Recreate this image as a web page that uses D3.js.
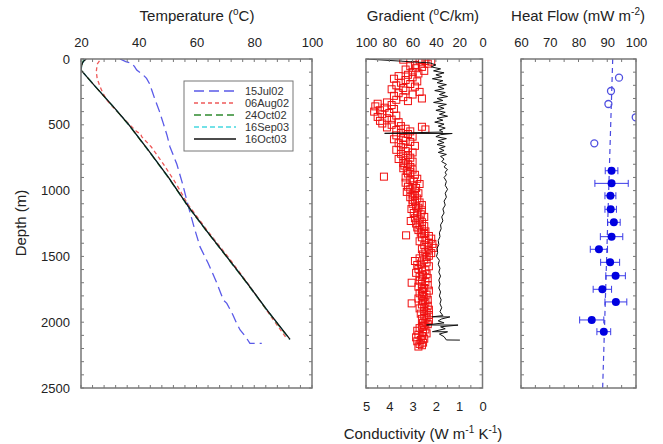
<!DOCTYPE html>
<html>
<head>
<meta charset="utf-8">
<script src="https://cdn.jsdelivr.net/npm/d3@7"></script>
<style>
  body { margin: 0; background: #fff; }
  text { font-family: "Liberation Sans", Arial, sans-serif; fill: #222; }
</style>
</head>
<body>
<script>
// Temperature logs, [depth (m), temperature (C)]
const tJul02 = [[0,33.5],[20,35.5],[33,37.6],[60,38.6],[84,39.3],[120,41.5],[147,42.7],[190,43.8],[236,44.5],[300,45.5],[400,47.2],[489,48.5],[580,49.8],[667,50.8],[800,53.2],[950,55.2],[1122,57.2],[1280,59.2],[1426,61.2],[1550,64],[1700,67],[1831,69.3],[1857,70.5],[1940,72.5],[2009,73.9],[2059,75.1],[2110,77],[2161,78.5],[2161,82.6]]
const tAug02 = [[15,26.4],[40,25.6],[96,25.3],[150,25.6],[210,26.6],[260,27.6],[312,28.9],[400,32.5],[500,36.9],[552,39.3],[570,40.7],[590,41.0],[667,44.3],[800,48.6],[950,53.0],[1100,56.9],[1300,63.6],[1500,70.8],[1700,77.6],[1900,84.0],[2130,91.4]]
const tOct02 = [[0,21.2],[20,20.6],[50,20.2],[84,20],[200,24.6],[362,31.1],[500,36.5],[692,43.2],[900,50.2],[1122,57.1],[1300,63.2],[1500,70.3],[1700,77.3],[1900,84.1],[2130,92.2]]
const tSep03 = [[0,21.4],[20,20.8],[50,20.3],[84,20],[200,24.6],[362,31.2],[500,36.6],[692,43.3],[900,50.3],[1122,57.2],[1300,63.3],[1500,70.4],[1700,77.4],[1900,84.2],[2130,92.3]]
const tOct03 = [[0,21.8],[15,21],[30,20.5],[50,20.2],[84,20],[200,24.6],[362,31.2],[500,36.6],[692,43.3],[900,50.3],[1122,57.2],[1300,63.3],[1500,70.4],[1700,77.4],[1900,84.2],[2130,92.4]]
const legendLabels = ['15Jul02', '06Aug02', '24Oct02', '16Sep03', '16Oct03']

// Gradient log, [depth (m), gradient (C/km)]
const gradient = [[0,100],[30,45],[45,40],[60,44],[75,36],[90,42],[105,33],[120,40],[135,35],[150,43],[165,34],[180,39],[195,31],[210,38],[225,33],[240,41],[255,32],[270,37],[285,30],[300,39],[315,34],[330,42],[345,31],[360,38],[375,33],[390,40],[405,32],[420,37],[435,30],[450,39],[465,34],[480,41],[495,33],[510,38],[525,32],[540,37],[555,34],[565,84],[566,26],[575,36],[590,40],[605,31],[620,38],[635,33],[650,39],[665,32],[680,37],[695,33],[710,38],[725,31],[740,36],[760,33],[780,35],[800,31],[820,33],[840,30],[860,32],[880,31],[900,33],[930,31],[960,32],[990,30],[1020,32],[1050,31],[1080,33],[1110,32],[1140,34],[1170,33],[1200,35],[1230,34],[1260,36],[1290,35.5],[1320,37],[1350,36.5],[1380,38],[1410,37.5],[1440,39],[1470,38.5],[1500,39.5],[1530,37],[1560,38],[1590,36.5],[1620,37.5],[1650,36],[1680,37.5],[1710,36.5],[1740,37.5],[1770,36],[1800,37],[1830,35.5],[1860,36.5],[1890,35],[1920,36.5],[1950,34],[1959,43],[1960,28],[1975,35],[1990,38],[2005,33],[2021,48],[2022,21],[2035,36],[2050,32],[2072,43],[2073,30],[2090,37],[2110,33],[2135,31],[2136,19.4]]

// Conductivity samples, [depth (m), k (W/m/K)]
const conductivity = [[5,3.4],[10,2.7],[15,2.45],[20,2.2],[25,2.6],[35,2.35],[45,2.9],
  [55,3.1],[60,2.6],[70,2.85],[80,3.3],[90,2.5],[100,3.0],[110,2.75],[120,3.2],
  [130,3.6],[140,3.0],[150,3.8],[160,3.3],[170,2.8],[180,3.5],[190,3.1],[200,3.7],[210,2.9],[220,3.4],
  [230,3.9],[240,3.3],[250,2.7],[260,3.6],[270,3.0],[280,3.8],[290,3.4],[300,2.6],[310,3.7],[320,3.2],
  [330,4.1],[340,4.5],[350,3.9],[360,4.6],[370,4.2],[380,3.8],[390,4.4],[400,4.65],[410,4.0],[420,4.3],[430,3.7],[440,4.5],[450,4.1],[460,3.9],[470,4.4],[480,3.6],
  [490,4.3],[500,3.9],[510,3.5],[515,2.6],[520,4.1],[530,3.3],[535,2.45],[540,3.7],[550,3.1],
  [560,3.5],[570,3.2],[580,3.7],[590,3.0],[600,3.4],[610,3.8],[620,3.3],[630,3.1],[640,3.6],[650,3.4],[660,2.9],[670,3.5],[680,3.2],[690,3.7],[700,3.3],[710,3.0],[720,3.5],[730,3.2],[740,3.4],[750,3.1],[760,3.6],[770,3.3],[780,3.0],[790,3.4],[800,3.2],
  [810,3.35],[820,3.1],[830,3.4],[840,3.0],[850,3.25],[860,3.1],[894,4.23],
  [870,3.2],[880,2.9],[900,3.3],[910,2.8],[920,3.1],[930,2.95],[940,3.3],[950,2.7],[960,3.0],[970,3.2],[980,2.85],[990,3.1],[1000,2.9],[1010,3.25],[1020,2.75],[1030,3.0],[1040,2.9],[1050,3.1],[1060,2.8],[1070,3.0],
  [1080,2.9],[1090,2.7],[1100,3.0],[1110,2.6],[1120,2.85],[1130,2.75],[1140,3.05],[1150,2.6],[1160,2.8],[1170,2.95],[1180,2.65],[1190,2.8],[1200,2.5],[1210,2.9],[1220,2.7],[1231,3.08],[1240,2.6],[1250,2.85],[1260,2.7],[1270,2.5],[1280,2.8],[1290,2.6],[1300,2.75],[1310,2.45],[1320,2.65],[1340,3.28],
  [1330,2.5],[1345,2.3],[1355,2.6],[1365,2.2],[1375,2.45],[1385,2.7],[1395,2.3],[1405,2.15],[1415,2.5],[1425,2.35],[1435,2.1],[1445,2.6],[1455,2.3],[1465,2.45],[1475,2.2],[1485,2.55],[1495,2.3],[1505,2.4],
  [1515,2.7],[1525,2.5],[1535,2.9],[1545,2.4],[1555,2.65],[1565,2.8],[1575,2.3],[1585,2.6],[1595,2.75],[1605,2.45],[1615,2.6],[1625,2.85],[1635,2.4],[1645,2.55],[1655,2.7],[1665,2.35],[1675,2.6],[1700,3.04],
  [1685,2.7],[1695,2.45],[1710,2.6],[1720,2.35],[1730,2.75],[1740,2.5],[1750,2.6],[1760,2.3],[1770,2.55],[1780,2.7],[1790,2.4],[1800,2.6],[1810,2.5],[1820,2.75],[1830,2.35],[1840,2.55],[1850,2.45],[1857,3.04],
  [1865,2.6],[1875,2.35],[1885,2.5],[1895,2.7],[1905,2.3],[1915,2.5],[1925,2.4],[1935,2.65],[1945,2.3],[1955,2.5],[1965,2.4],[1975,2.6],[1985,2.3],[1995,2.45],[2005,2.55],[2015,2.35],[2025,2.5],[2035,2.6],
  [2045,2.7],[2055,2.45],[2065,2.8],[2075,2.55],[2085,2.4],[2095,2.75],[2105,2.6],[2115,2.85],[2125,2.5],[2135,2.65],[2145,2.8],[2155,2.55],[2165,2.7],[2175,2.6],[2185,2.75]]

// Heat flow
const hfOpenDepth = [142, 243, 342, 443, 641]
const hfOpen = [94.1, 91.3, 90.4, 99.9, 85.5]
const hfDepth = [849, 945, 1039, 1142, 1241, 1350, 1446, 1545, 1647, 1750, 1846, 1983, 2072]
const hfVal = [91.5, 91.5, 91.1, 91.2, 92.3, 91.5, 87.1, 91.0, 92.9, 88.3, 93.0, 84.6, 88.8]
const hfErr = [2.2, 5.8, 1.9, 2.0, 2.2, 3.9, 3.0, 3.3, 3.4, 3.2, 3.8, 4.2, 2.4]
const hfFit = [[0, 91.9], [2500, 88.4]]

// Layout.
const yTop = 59, yBottom = 388
const svg = d3.select('body').append('svg')
  .attr('width', 663).attr('height', 444)

const y = d3.scaleLinear().domain([0, 2500]).range([yTop, yBottom])
const xT = d3.scaleLinear().domain([20, 100]).range([81, 312])
const xG = d3.scaleLinear().domain([100, 0]).range([366, 482.5])
const xK = d3.scaleLinear().domain([5, 0]).range([366, 482.5])
const xH = d3.scaleLinear().domain([60, 100]).range([521, 636])
const fmt = d3.format('d')

// Helper: panel frame with inward minor ticks.
const frame = (x, xMinor) => {
  const g = svg.append('g')
  const [x0, x1] = x.range()
  xMinor.forEach(v => {
    g.append('line').attr('x1', x(v)).attr('x2', x(v)).attr('y1', yTop).attr('y2', yTop + 3)
    g.append('line').attr('x1', x(v)).attr('x2', x(v)).attr('y1', yBottom).attr('y2', yBottom - 3)
  })
  d3.range(0, 2501, 100).forEach(v => {
    g.append('line').attr('x1', x0).attr('x2', x0 + 3).attr('y1', y(v)).attr('y2', y(v))
    g.append('line').attr('x1', x1).attr('x2', x1 - 3).attr('y1', y(v)).attr('y2', y(v))
  })
  g.selectAll('line').style('stroke', '#777').style('stroke-width', 1)
  g.append('rect')
    .attr('x', Math.min(x0, x1)).attr('y', yTop)
    .attr('width', Math.abs(x1 - x0)).attr('height', yBottom - yTop)
    .style('fill', 'none').style('stroke', '#777').style('stroke-width', 1.5)
}

const styleAxis = g => {
  g.select('.domain').remove()
  g.selectAll('.tick line').remove()
  g.selectAll('text').style('font-size', '13px').style('fill', '#222')
    .style('font-family', '"Liberation Sans", Arial, sans-serif')
}

const clip = (id, x) => {
  svg.append('clipPath').attr('id', id).append('rect')
    .attr('x', Math.min(...x.range())).attr('y', yTop)
    .attr('width', Math.abs(x.range()[1] - x.range()[0])).attr('height', yBottom - yTop)
}
clip('cT', xT); clip('cG', xG); clip('cH', xH)

// ---------- Temperature panel ----------
svg.append('g').attr('transform', `translate(0, ${yTop})`)
  .call(d3.axisTop(xT).tickValues([20, 40, 60, 80, 100]).tickFormat(fmt).tickPadding(6))
  .call(styleAxis)
svg.append('g').attr('transform', 'translate(81, 0)')
  .call(d3.axisLeft(y).tickValues([0, 500, 1000, 1500, 2000, 2500]).tickFormat(fmt).tickPadding(5))
  .call(styleAxis)

const tLine = d3.line().x(d => xT(d[1])).y(d => y(d[0]))
const series = [
  { data: tJul02, color: '#5a5ae8', dash: '10,5', width: 1.3 },
  { data: tAug02, color: '#ee5a5a', dash: '4,3', width: 1.3 },
  { data: tOct02, color: '#2f8a2f', dash: '7,4', width: 1.3 },
  { data: tSep03, color: '#45d8e0', dash: '5,3', width: 1.3 },
  { data: tOct03, color: '#111', dash: null, width: 1.3 }
]
const tG = svg.append('g').attr('clip-path', 'url(#cT)')
series.forEach(s => {
  tG.append('path').datum(s.data).attr('d', tLine)
    .style('fill', 'none').style('stroke', s.color)
    .style('stroke-width', s.width).style('stroke-dasharray', s.dash)
})

frame(xT, d3.range(20, 101, 4))

// Legend.
const lg = svg.append('g')
lg.append('rect').attr('x', 184).attr('y', 81).attr('width', 109).attr('height', 70)
  .style('fill', '#fff').style('stroke', '#777').style('stroke-width', 1)
legendLabels.forEach((label, i) => {
  const ly = 91 + i * 12
  lg.append('line').attr('x1', 194).attr('x2', 236).attr('y1', ly).attr('y2', ly)
    .style('stroke', series[i].color).style('stroke-width', 1.3)
    .style('stroke-dasharray', series[i].dash)
  lg.append('text').attr('x', 245).attr('y', ly + 4).text(label)
    .style('font-size', '11px').style('fill', '#333')
})

// ---------- Gradient / conductivity panel ----------
svg.append('g').attr('transform', `translate(0, ${yTop})`)
  .call(d3.axisTop(xG).tickValues([100, 80, 60, 40, 20, 0]).tickFormat(fmt).tickPadding(6))
  .call(styleAxis)
svg.append('g').attr('transform', `translate(0, ${yBottom})`)
  .call(d3.axisBottom(xK).tickValues([5, 4, 3, 2, 1, 0]).tickFormat(fmt).tickPadding(8))
  .call(styleAxis)

const gG = svg.append('g').attr('clip-path', 'url(#cG)')
gG.selectAll('rect.k').data(conductivity).enter().append('rect')
  .attr('class', 'k')
  .attr('x', d => xK(d[1]) - 3.5).attr('y', d => y(d[0]) - 3.5)
  .attr('width', 7).attr('height', 7)
  .style('fill', 'none').style('stroke', '#f01010').style('stroke-width', 1)

gG.append('path').datum(gradient)
  .attr('d', d3.line().x(d => xG(d[1])).y(d => y(d[0])))
  .style('fill', 'none').style('stroke', '#111').style('stroke-width', 1)

frame(xG, d3.range(0, 101, 10))

// ---------- Heat flow panel ----------
svg.append('g').attr('transform', `translate(0, ${yTop})`)
  .call(d3.axisTop(xH).tickValues([60, 70, 80, 90, 100]).tickFormat(fmt).tickPadding(6))
  .call(styleAxis)

const hG = svg.append('g').attr('clip-path', 'url(#cH)')
hG.append('path').datum(hfFit)
  .attr('d', d3.line().x(d => xH(d[1])).y(d => y(d[0])))
  .style('fill', 'none').style('stroke', '#4a4ae0').style('stroke-width', 1.2)
  .style('stroke-dasharray', '5,4')

hfDepth.forEach((d, i) => {
  const cy = y(d), xa = xH(hfVal[i] - hfErr[i]), xb = xH(hfVal[i] + hfErr[i])
  hG.append('line').attr('class', 'err').attr('x1', xa).attr('x2', xb).attr('y1', cy).attr('y2', cy)
  hG.append('line').attr('class', 'err').attr('x1', xa).attr('x2', xa).attr('y1', cy - 3.5).attr('y2', cy + 3.5)
  hG.append('line').attr('class', 'err').attr('x1', xb).attr('x2', xb).attr('y1', cy - 3.5).attr('y2', cy + 3.5)
})
hG.selectAll('line.err').style('stroke', '#3a3ae8').style('stroke-width', 1)

hG.selectAll('circle.f').data(hfDepth).enter().append('circle')
  .attr('class', 'f')
  .attr('cx', (d, i) => xH(hfVal[i])).attr('cy', d => y(d)).attr('r', 4)
  .style('fill', '#0000e0')

hG.selectAll('circle.o').data(hfOpenDepth).enter().append('circle')
  .attr('class', 'o')
  .attr('cx', (d, i) => xH(hfOpen[i])).attr('cy', d => y(d)).attr('r', 3.5)
  .style('fill', 'none').style('stroke', '#5050e0').style('stroke-width', 1.3)

frame(xH, d3.range(60, 101, 5))

// ---------- Titles ----------
// parts: [text, 'sup' | 'down' | undefined]
const title = (x, yy, parts, rotate) => {
  const t = svg.append('text').attr('text-anchor', 'middle').style('font-size', '15px')
  if (rotate) t.attr('transform', `translate(${x}, ${yy}) rotate(-90)`)
  else t.attr('x', x).attr('y', yy)
  parts.forEach(p => {
    const s = t.append('tspan').text(p[0])
    if (p[1] === 'sup') s.attr('dy', '-6').style('font-size', '10px')
    if (p[1] === 'down') s.attr('dy', '6')
  })
}
title(197, 21, [['Temperature ('], ['o', 'sup'], ['C)', 'down']])
title(423, 21, [['Gradient ('], ['o', 'sup'], ['C/km)', 'down']])
title(578, 21, [['Heat Flow (mW m'], ['-2', 'sup'], [')', 'down']])
title(423, 439, [['Conductivity (W m'], ['-1', 'sup'], [' K', 'down'], ['-1', 'sup'], [')', 'down']])
title(26, 223, [['Depth (m)']], true)
</script>
</body>
</html>
